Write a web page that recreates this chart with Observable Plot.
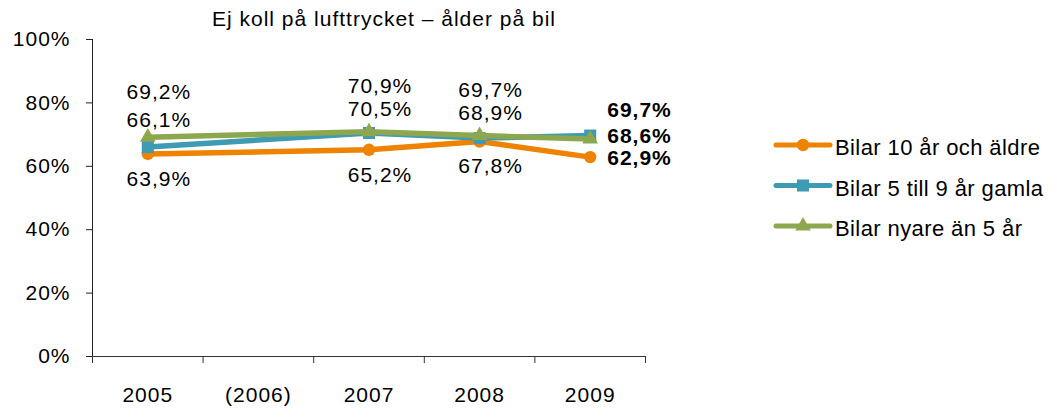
<!DOCTYPE html>
<html><head><meta charset="utf-8">
<script src="https://cdn.jsdelivr.net/npm/d3@7"></script>
<script src="https://cdn.jsdelivr.net/npm/@observablehq/plot@0.6"></script>
<style>
body{margin:0;background:#fff;}
#wrap{position:relative;width:1057px;height:409px;font-family:"Liberation Sans",Arial,sans-serif;}
#wrap svg text{letter-spacing:1px;}
</style></head><body><div id="wrap"></div>
<script>
const title = "Ej koll på lufttrycket – ålder på bil";
const years = ["2005", "(2006)", "2007", "2008", "2009"];
const seriesNames = ["Bilar 10 år och äldre", "Bilar 5 till 9 år gamla", "Bilar nyare än 5 år"];
const dataYears = ["2005", "2007", "2008", "2009"];
const older = [63.9, 65.2, 67.8, 62.9];
const mid = [66.1, 70.5, 68.9, 69.7];
const newer = [69.2, 70.9, 69.7, 68.6];
const yTicks = [0, 20, 40, 60, 80, 100];

const seriesValues = [older, mid, newer];
const colors = ["#EE8300", "#3F9AB3", "#8CA74E"];
const symbols = ["circle", "square", "triangle"];
const radii = [6.2, 6.8, 5.8];
const endDy = [1, -25, -3];

const W = 1057, H = 409, mL = 92, mR = 412, mT = 39, mB = 53;
const yScale = Plot.scale({y: {domain: [0, 100], range: [H - mB, mT]}});

const rows = [];
seriesNames.forEach((s, i) => dataYears.forEach((y, j) => rows.push({series: s, si: i, year: y, idx: years.indexOf(y), value: seriesValues[i][j]})));
const fmt = v => d3.format(".1f")(v).replace(".", ",") + "%";
const lastYear = dataYears[dataYears.length - 1];

// label placement: newest above, middle below it (avoiding overlap), oldest below the line
const labelDyFor = {};
dataYears.forEach((yr, j) => {
  if (yr === lastYear) return;
  const pO = yScale.apply(older[j]), pM = yScale.apply(mid[j]), pN = yScale.apply(newer[j]);
  const lN = pN - 45;
  const lM = Math.max(pM - 27, lN + 23);
  const lO = pO + 25;
  labelDyFor[yr] = [lO - pO, lM - pM, lN - pN];
});

const marks = [
  Plot.ruleY([0], {stroke: "#333", strokeWidth: 1}),
  Plot.ruleX([-0.5], {y1: 0, y2: 100, stroke: "#222", strokeWidth: 1}),
  Plot.axisY({ticks: yTicks, tickFormat: d => d + "%", tickSize: 6, tickPadding: 16, label: null, fontSize: 21, stroke: "#222"}),
  Plot.axisX({ticks: d3.range(years.length + 1).map(i => i - 0.5), tickSize: 7, tickFormat: () => "", label: null, stroke: "#333"}),
  Plot.axisX({ticks: d3.range(years.length), tickSize: 0, tickPadding: 31, tickFormat: i => years[i], label: null, fontSize: 21}),
  Plot.text([title], {frameAnchor: "top", dy: -20, dx: 15, lineAnchor: "middle", fontSize: 21})
];
seriesNames.forEach((s, i) => {
  const d = rows.filter(r => r.si === i);
  marks.push(Plot.line(d, {x: "idx", y: "value", stroke: colors[i], strokeWidth: 5.5, strokeLinejoin: "round", strokeLinecap: "round"}));
  marks.push(Plot.dot(d, {x: "idx", y: "value", symbol: symbols[i], fill: colors[i], r: radii[i]}));
});
rows.forEach(r => {
  if (r.year === lastYear) {
    marks.push(Plot.text([r], {x: "idx", y: "value", text: d => fmt(d.value), dx: 17, dy: endDy[r.si], textAnchor: "start", lineAnchor: "middle", fontSize: 21, fontWeight: "bold"}));
  } else {
    marks.push(Plot.text([r], {x: "idx", y: "value", text: d => fmt(d.value), dx: 11, dy: labelDyFor[r.year][r.si], lineAnchor: "middle", fontSize: 21}));
  }
});

const chart = Plot.plot({
  width: W, height: H,
  marginLeft: mL, marginRight: mR, marginTop: mT, marginBottom: mB,
  x: {type: "linear", domain: [-0.5, years.length - 0.5], axis: null},
  y: {domain: [0, 100], axis: null},
  style: {fontFamily: "'Liberation Sans', Arial, sans-serif", fontSize: "21px", color: "#000", background: "#fff", overflow: "visible"},
  marks
});
document.getElementById("wrap").appendChild(chart);

const leg = d3.select("#wrap").append("svg")
  .attr("width", 287).attr("height", 140)
  .style("position", "absolute").style("left", "770px").style("top", "120px");
const symMap = {circle: d3.symbolCircle, square: d3.symbolSquare, triangle: d3.symbolTriangle};
seriesNames.forEach((name, i) => {
  const g = leg.append("g").attr("transform", `translate(0,${25 + i * 40.5})`);
  g.append("line").attr("x1", 6).attr("x2", 60).attr("stroke", colors[i]).attr("stroke-width", 5).attr("stroke-linecap", "round");
  g.append("path").attr("d", d3.symbol(symMap[symbols[i]], Math.PI * radii[i] * radii[i])()).attr("transform", "translate(33,0)").attr("fill", colors[i]);
  g.append("text").attr("x", 65).attr("y", 3).attr("dy", "0.32em")
    .style("font-family", "'Liberation Sans', Arial, sans-serif").style("font-size", "22px").style("letter-spacing", "0.4px").attr("fill", "#000")
    .text(name);
});
</script></body></html>
